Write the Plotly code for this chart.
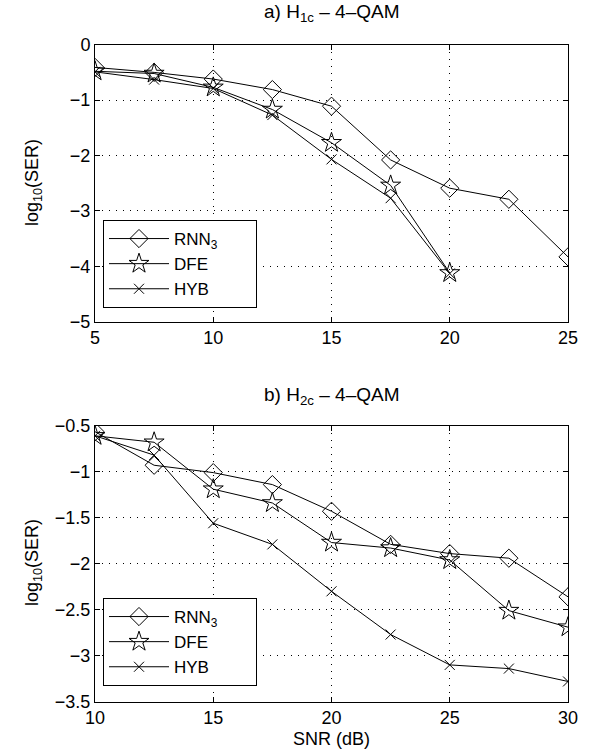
import plotly.graph_objects as go

# ---- data ----
snr_a = [5, 7.5, 10, 12.5, 15, 17.5, 20, 22.5, 25]
rnn_a = [-0.41, -0.50, -0.62, -0.81, -1.11, -2.08, -2.59, -2.79, -3.83]
snr_a_short = [5, 7.5, 10, 12.5, 15, 17.5, 20]
dfe_a = [-0.48, -0.52, -0.77, -1.17, -1.77, -2.54, -4.12]
hyb_a = [-0.49, -0.63, -0.79, -1.27, -2.07, -2.77, -4.13]

snr_b = [10, 12.5, 15, 17.5, 20, 22.5, 25, 27.5, 30]
rnn_b = [-0.565, -0.93, -1.01, -1.14, -1.43, -1.79, -1.89, -1.94, -2.36]
dfe_b = [-0.61, -0.68, -1.19, -1.34, -1.77, -1.83, -1.96, -2.51, -2.69]
hyb_b = [-0.61, -0.82, -1.56, -1.79, -2.30, -2.77, -3.10, -3.14, -3.28]

xticks_a = [5, 10, 15, 20, 25]
yticks_a = [0, -1, -2, -3, -4, -5]
ytext_a = ["0", "\u22121", "\u22122", "\u22123", "\u22124", "\u22125"]
xticks_b = [10, 15, 20, 25, 30]
yticks_b = [-0.5, -1, -1.5, -2, -2.5, -3, -3.5]
ytext_b = ["\u22120.5", "\u22121", "\u22121.5", "\u22122", "\u22122.5", "\u22123", "\u22123.5"]

PAD = "\u00a0" * 7
names = ["RNN<sub>3</sub>" + PAD, "DFE", "HYB"]
symbols = ["diamond-open", "star-open", "x-thin-open"]
sizes = [14, 15, 10]

FONT = "Liberation Sans, Arial, Helvetica, sans-serif"
W, H = 596, 753
TICK = 18

fig = go.Figure()

series_a = [(snr_a, rnn_a), (snr_a_short, dfe_a), (snr_a_short, hyb_a)]
series_b = [(snr_b, rnn_b), (snr_b, dfe_b), (snr_b, hyb_b)]

for i, (x, y) in enumerate(series_a):
    fig.add_trace(go.Scatter(
        x=x, y=y, mode="lines+markers", name=names[i], legend="legend",
        line=dict(color="black", width=1),
        marker=dict(symbol=symbols[i], size=sizes[i], color="black",
                    line=dict(color="black", width=1)),
        xaxis="x", yaxis="y"))
for i, (x, y) in enumerate(series_b):
    fig.add_trace(go.Scatter(
        x=x, y=y, mode="lines+markers", name=names[i], legend="legend2",
        line=dict(color="black", width=1),
        marker=dict(symbol=symbols[i], size=sizes[i], color="black",
                    line=dict(color="black", width=1)),
        xaxis="x2", yaxis="y2"))


def px_x(p):
    return p / W


def px_y(p):
    return 1 - p / H


axis_common = dict(
    showline=True, linecolor="black", linewidth=1, mirror="ticks",
    ticks="inside", ticklen=5, tickcolor="black",
    showgrid=True, gridcolor="black", griddash="1px,6px", gridwidth=1,
    zeroline=False, automargin=False,
    tickfont=dict(family=FONT, size=TICK, color="black"),
)

legend_common = dict(
    xanchor="left", yanchor="top", bgcolor="white", bordercolor="black",
    borderwidth=1, font=dict(family=FONT, size=17), itemwidth=60,
    tracegroupgap=0,
)

dom_x = [px_x(95), px_x(568)]
cx = (dom_x[0] + dom_x[1]) / 2
fig.update_layout(
    width=W, height=H,
    margin=dict(l=0, r=0, t=0, b=0),
    paper_bgcolor="white", plot_bgcolor="white",
    font=dict(family=FONT, size=TICK, color="black"),
    xaxis=dict(domain=dom_x, anchor="y", range=[5, 25], tickvals=xticks_a, **axis_common),
    yaxis=dict(domain=[px_y(321.7), px_y(44.7)], anchor="x", range=[-5, 0],
               tickvals=yticks_a, ticktext=ytext_a, **axis_common),
    xaxis2=dict(domain=dom_x, anchor="y2", range=[10, 30], tickvals=xticks_b, **axis_common),
    yaxis2=dict(domain=[px_y(701.7), px_y(425.7)], anchor="x2", range=[-3.5, -0.5],
                tickvals=yticks_b, ticktext=ytext_b, **axis_common),
    legend=dict(x=px_x(103), y=px_y(220), **legend_common),
    legend2=dict(x=px_x(103), y=px_y(598), **legend_common),
    annotations=[
        dict(text="a) H<sub>1c</sub> \u2013 4\u2013QAM", x=cx, y=px_y(13),
             xref="paper", yref="paper", showarrow=False, yanchor="middle",
             font=dict(family=FONT, size=19)),
        dict(text="b) H<sub>2c</sub> \u2013 4\u2013QAM", x=cx, y=px_y(396),
             xref="paper", yref="paper", showarrow=False, yanchor="middle",
             font=dict(family=FONT, size=19)),
        dict(text="log<sub>10</sub>(SER)", x=px_x(33), y=px_y(183),
             xref="paper", yref="paper", showarrow=False, textangle=-90,
             xanchor="center", yanchor="middle", font=dict(family=FONT, size=18)),
        dict(text="log<sub>10</sub>(SER)", x=px_x(33), y=px_y(563),
             xref="paper", yref="paper", showarrow=False, textangle=-90,
             xanchor="center", yanchor="middle", font=dict(family=FONT, size=18)),
        dict(text="SNR (dB)", x=cx, y=px_y(739),
             xref="paper", yref="paper", showarrow=False, yanchor="middle",
             font=dict(family=FONT, size=18)),
    ],
)

fig.write_html(
    "out.html",
    config={"displayModeBar": False},
    post_script="document.body.style.margin='0';document.body.style.overflow='hidden';",
)
